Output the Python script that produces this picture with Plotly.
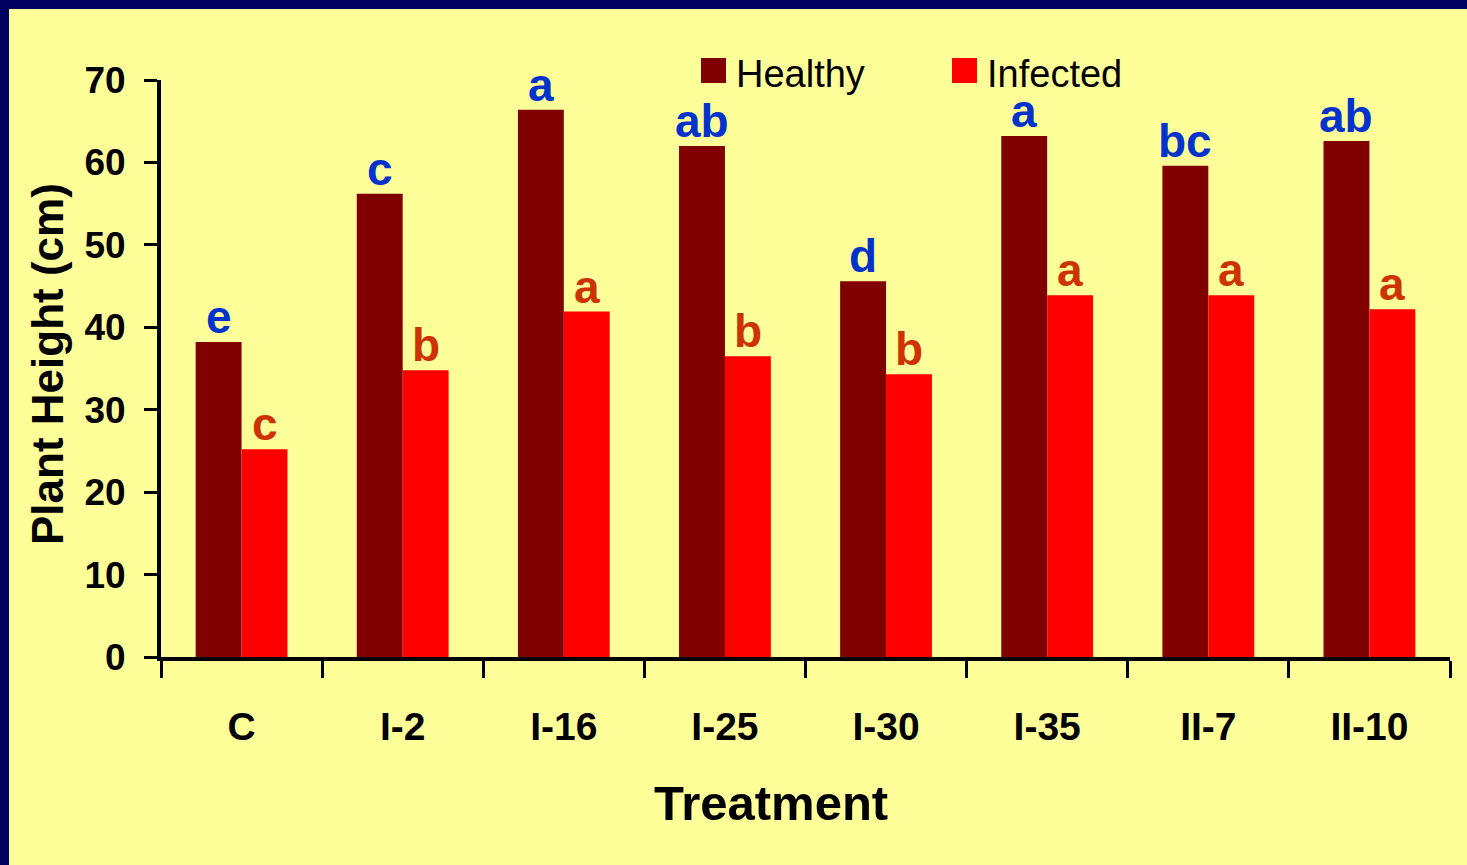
import plotly.graph_objects as go

categories = ["C", "I-2", "I-16", "I-25", "I-30", "I-35", "II-7", "II-10"]
healthy = [38.2, 56.2, 66.4, 62.0, 45.6, 63.2, 59.6, 62.6]
infected = [25.2, 34.8, 41.9, 36.5, 34.3, 43.9, 43.9, 42.2]
healthy_letters = ["e", "c", "a", "ab", "d", "a", "bc", "ab"]
infected_letters = ["c", "b", "a", "b", "b", "a", "a", "a"]
series_names = ["Healthy", "Infected"]

W, H = 1467, 865
L, R, T, B = 161, 17, 80, 208
pw, ph = W - L - R, H - T - B

def px2x(px):
    return (px - L) / pw

def py2y(py):
    return (H - B - py) / ph

YEL = "#FFFF99"
NAVY = "#000060"
C_H = "#800000"
C_I = "#FF0000"
BLUE = "#0033CC"
ORNG = "#CC3300"

fig = go.Figure()
fig.add_trace(go.Bar(x=categories, y=healthy, name=series_names[0], marker=dict(color=C_H, line=dict(width=0))))
fig.add_trace(go.Bar(x=categories, y=infected, name=series_names[1], marker=dict(color=C_I, line=dict(width=0))))

sans = "Liberation Sans, Arial"

annotations = []
for i, c in enumerate(categories):
    annotations.append(dict(x=c, y=healthy[i], text=f"<b>{healthy_letters[i]}</b>", showarrow=False,
                            xshift=-23, yshift=-3, yanchor="bottom", font=dict(size=46, color=BLUE, family=sans)))
    annotations.append(dict(x=c, y=infected[i], text=f"<b>{infected_letters[i]}</b>", showarrow=False,
                            xshift=23, yshift=-3, yanchor="bottom", font=dict(size=46, color=ORNG, family=sans)))

# axis titles
annotations.append(dict(xref="paper", yref="paper", x=px2x(771), y=py2y(803), text="<b>Treatment</b>",
                        showarrow=False, xanchor="center", yanchor="middle",
                        font=dict(size=49, color="black", family=sans)))
annotations.append(dict(xref="paper", yref="paper", x=px2x(47), y=py2y(364), text="<b>Plant Height (cm)</b>",
                        showarrow=False, xanchor="center", yanchor="middle", textangle=-90,
                        font=dict(size=44, color="black", family=sans)))

# manual legend
shapes = []
leg = [(series_names[0], C_H, 701), (series_names[1], C_I, 952)]
for name, col, x0 in leg:
    shapes.append(dict(type="rect", xref="paper", yref="paper", x0=px2x(x0), x1=px2x(x0 + 25),
                       y0=py2y(83), y1=py2y(58), fillcolor=col, line=dict(width=0)))
    annotations.append(dict(xref="paper", yref="paper", x=px2x(x0 + 33), y=py2y(74), text=name,
                            showarrow=False, xanchor="left", yanchor="middle",
                            font=dict(size=38, color="black", family=sans)))

# navy border (top and left)
shapes.append(dict(type="rect", xref="paper", yref="paper", x0=px2x(0), x1=px2x(W), y0=py2y(9), y1=py2y(0),
                   fillcolor=NAVY, line=dict(width=0), layer="above"))
shapes.append(dict(type="rect", xref="paper", yref="paper", x0=px2x(0), x1=px2x(9), y0=py2y(H), y1=py2y(0),
                   fillcolor=NAVY, line=dict(width=0), layer="above"))

fig.update_layout(
    width=W, height=H,
    margin=dict(l=L, r=R, t=T, b=B, pad=0),
    paper_bgcolor=YEL, plot_bgcolor=YEL,
    barmode="group", bargap=0.43, bargroupgap=0,
    showlegend=False,
    annotations=annotations, shapes=shapes,
    xaxis=dict(type="category", showgrid=False, showline=True, linecolor="black", linewidth=4,
               ticks="outside", ticklen=17, tickwidth=3, tickcolor="black", tickson="boundaries",
               tickfont=dict(size=39, color="black", family=sans), ticklabelstandoff=32,
               tickprefix="<b>", ticksuffix="</b>", zeroline=False),
    yaxis=dict(range=[0, 70], dtick=10, showgrid=False, showline=True, linecolor="black", linewidth=4,
               ticks="outside", ticklen=13, tickwidth=3, tickcolor="black",
               tickfont=dict(size=37, color="black", family=sans), ticklabelstandoff=11,
               tickprefix="<b>", ticksuffix="</b>", zeroline=False),
)

fig.write_html("out.html", config={"displayModeBar": False},
               post_script="document.body.style.margin='0';document.body.style.padding='0';"
                           "document.body.style.background='#FFFF99';")
